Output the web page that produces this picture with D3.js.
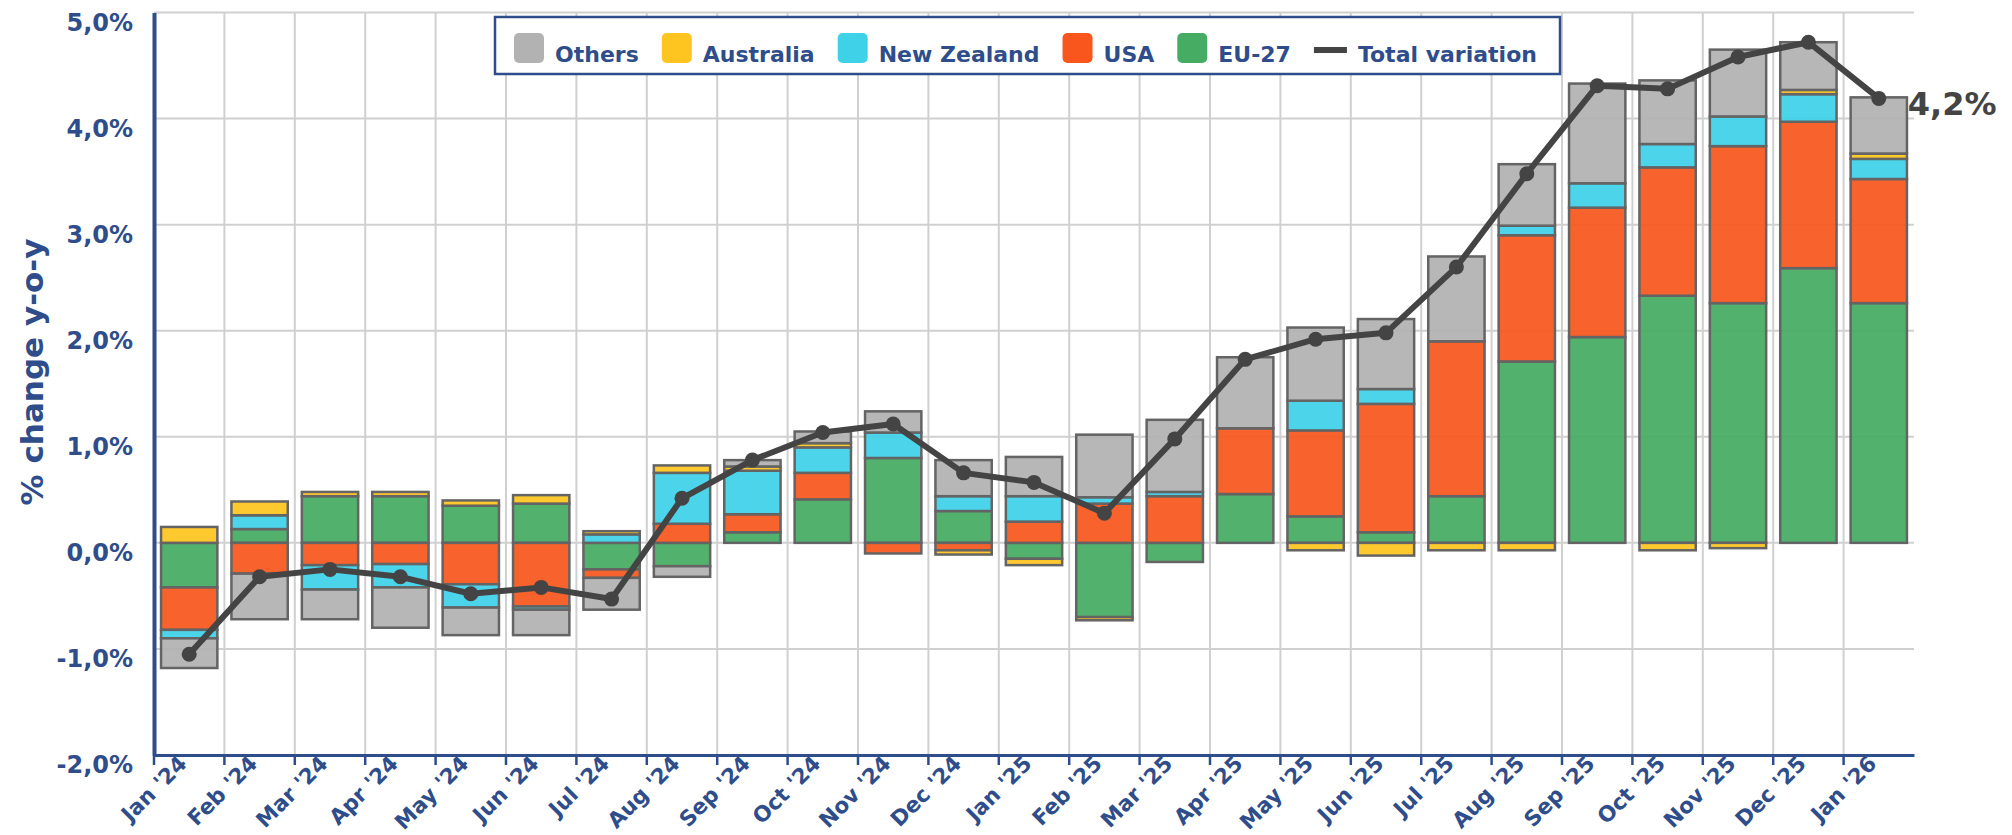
<!DOCTYPE html>
<html>
<head>
<meta charset="utf-8">
<script src="https://cdn.jsdelivr.net/npm/d3@7"></script>
<style>
  body { margin: 0; background: #fff; }
  svg { font-family: "DejaVu Sans", sans-serif; font-weight: bold; }
</style>
</head>
<body>
<div class="chart"></div>
<script>
const months = ["Jan '24", "Feb '24", "Mar '24", "Apr '24", "May '24", "Jun '24", "Jul '24", "Aug '24",
    "Sep '24", "Oct '24", "Nov '24", "Dec '24", "Jan '25", "Feb '25", "Mar '25", "Apr '25", "May '25",
    "Jun '25", "Jul '25", "Aug '25", "Sep '25", "Oct '25", "Nov '25", "Dec '25", "Jan '26"]

// contributions in percentage points
const eu27 = [-0.42, 0.13, 0.44, 0.44, 0.35, 0.37, -0.25, -0.22, 0.10, 0.41, 0.80, 0.30, -0.15,
    -0.70, -0.18, 0.46, 0.25, 0.10, 0.44, 1.71, 1.94, 2.33, 2.26, 2.59, 2.26]
const usa = [-0.40, -0.29, -0.21, -0.20, -0.39, -0.60, -0.08, 0.18, 0.17, 0.25, -0.10, -0.07, 0.20,
    0.37, 0.44, 0.62, 0.81, 1.21, 1.46, 1.19, 1.22, 1.21, 1.48, 1.38, 1.17]
const newZealand = [-0.08, 0.13, -0.23, -0.22, -0.22, -0.03, 0.08, 0.48, 0.41, 0.24, 0.24, 0.14, 0.24,
    0.06, 0.04, 0, 0.28, 0.14, 0, 0.09, 0.23, 0.22, 0.28, 0.26, 0.19]
const australia = [0.15, 0.13, 0.04, 0.04, 0.05, 0.08, 0.03, 0.07, 0.04, 0.04, 0, -0.04, -0.06,
    -0.03, 0, 0, -0.07, -0.12, -0.07, -0.07, 0, -0.07, -0.05, 0.04, 0.05]
const others = [-0.28, -0.43, -0.28, -0.38, -0.26, -0.24, -0.30, -0.10, 0.06, 0.11, 0.20, 0.34, 0.37,
    0.59, 0.68, 0.67, 0.69, 0.66, 0.80, 0.58, 0.94, 0.60, 0.63, 0.45, 0.53]
const totalVariation = [-1.05, -0.32, -0.25, -0.32, -0.48, -0.42, -0.53, 0.42, 0.78, 1.04, 1.12, 0.66, 0.57,
    0.28, 0.98, 1.73, 1.92, 1.98, 2.60, 3.48, 4.31, 4.28, 4.58, 4.72, 4.19]

const yTicks = [-2, -1, 0, 1, 2, 3, 4, 5]
const seriesKeys = ['EU-27', 'USA', 'New Zealand', 'Australia', 'Others']   // stack order from zero
const legendKeys = ['Others', 'Australia', 'New Zealand', 'USA', 'EU-27']
const seriesColors = ['#46ab63', '#f8561c', '#3ed1e8', '#fec41f', '#b2b2b2']

const margin = ({top: 12.5, right: 98, bottom: 80, left: 154})
const width = 2012 - margin.left - margin.right
const height = 835 - margin.top - margin.bottom
const blue = '#2e4d8a'

const rows = months.map((m, i) => ({
    month: m,
    'EU-27': eu27[i],
    'USA': usa[i],
    'New Zealand': newZealand[i],
    'Australia': australia[i],
    'Others': others[i],
    total: totalVariation[i]
}))

const color = d3.scaleOrdinal().domain(seriesKeys).range(seriesColors)

const x = d3.scaleBand()
    .domain(months)
    .range([0, width])
    .paddingInner(0.2)
    .paddingOuter(0.1)

const y = d3.scaleLinear()
    .domain([-2, 5])
    .range([height, 0])

const svgRoot = d3.select('.chart').append('svg')
    .attr('width', 2012)
    .attr('height', 835)

const svg = svgRoot.append('g')
    .attr('transform', `translate(${margin.left},${margin.top})`)

// grid
const step = x.step()
svg.append('g').selectAll('line.hgrid')
    .data(yTicks)
    .join('line')
    .attr('x1', 0).attr('x2', width)
    .attr('y1', d => y(d)).attr('y2', d => y(d))
    .attr('stroke', '#d0d0d0').attr('stroke-width', 2)

svg.append('g').selectAll('line.vgrid')
    .data(months.slice(1))
    .join('line')
    .attr('x1', d => x(d) - step * 0.1).attr('x2', d => x(d) - step * 0.1)
    .attr('y1', 0).attr('y2', height)
    .attr('stroke', '#d0d0d0').attr('stroke-width', 2)

// stacked bars, positives up and negatives down
const stack = d3.stack()
    .keys(seriesKeys)
    .offset(d3.stackOffsetDiverging)
const layers = stack(rows)

svg.append('g').selectAll('g')
    .data(layers)
    .join('g')
    .attr('fill', d => color(d.key))
    .selectAll('rect')
    .data(d => d.filter(s => s[1] !== s[0]))
    .join('rect')
    .attr('x', d => x(d.data.month))
    .attr('width', x.bandwidth())
    .attr('y', d => y(Math.max(d[0], d[1])))
    .attr('height', d => Math.abs(y(d[0]) - y(d[1])))
    .attr('fill-opacity', 0.93)
    .attr('stroke', '#646464')
    .attr('stroke-width', 2.5)

// axes
const fmt = v => v.toFixed(1).replace('.', ',') + '%'

const yAxis = d3.axisLeft(y)
    .tickValues(yTicks)
    .tickSize(0)
    .tickPadding(21)
    .tickFormat(fmt)

const yg = svg.append('g').call(yAxis)
yg.select('.domain').attr('stroke', blue).attr('stroke-width', 4)
yg.selectAll('text')
    .attr('fill', blue)
    .attr('font-size', 24)
    .attr('font-family', '"DejaVu Sans", sans-serif')
    .attr('font-weight', 'bold')
    .attr('dy', '0.73em')

const xAxis = d3.axisBottom(x)
    .tickSize(10)
    .tickSizeOuter(0)

const xg = svg.append('g')
    .attr('transform', `translate(0,${height})`)
    .call(xAxis)
xg.select('.domain').attr('stroke', blue).attr('stroke-width', 3)
xg.selectAll('.tick line')
    .attr('stroke', blue).attr('stroke-width', 2.5)
    .attr('transform', `translate(${-step / 2},0)`)
xg.selectAll('.tick text')
    .attr('fill', blue)
    .attr('font-size', 21.5)
    .attr('font-family', '"DejaVu Sans", sans-serif')
    .attr('font-weight', 'bold')
    .attr('text-anchor', 'end')
    .attr('x', 0).attr('y', 0).attr('dy', 0)
    .attr('transform', 'translate(-1,10) rotate(-45)')

// total variation line
const cx = d => x(d.month) + x.bandwidth() / 2
const line = d3.line()
    .x(cx)
    .y(d => y(d.total))

svg.append('path')
    .datum(rows)
    .attr('d', line)
    .attr('fill', 'none')
    .attr('stroke', '#444')
    .attr('stroke-width', 6)
    .attr('stroke-linejoin', 'round')

svg.append('g').selectAll('circle')
    .data(rows)
    .join('circle')
    .attr('cx', cx)
    .attr('cy', d => y(d.total))
    .attr('r', 7.5)
    .attr('fill', '#444')

const last = rows[rows.length - 1]
svg.append('text')
    .attr('x', cx(last) + 29)
    .attr('y', y(last.total) + 17)
    .attr('fill', '#444')
    .attr('font-size', 32)
    .text(fmt(last.total))

// y title
svgRoot.append('text')
    .attr('transform', 'translate(43,372) rotate(-90)')
    .attr('text-anchor', 'middle')
    .attr('fill', blue)
    .attr('font-size', 31)
    .text('% change y-o-y')

// legend
const legend = svgRoot.append('g')
legend.append('rect')
    .attr('x', 495).attr('y', 17)
    .attr('width', 1065).attr('height', 57)
    .attr('fill', '#fff')
    .attr('stroke', blue)
    .attr('stroke-width', 2.5)

let lx = 514
legendKeys.concat(['Total variation']).forEach(k => {
    if (k === 'Total variation') {
        legend.append('rect')
            .attr('x', lx).attr('y', 47)
            .attr('width', 33).attr('height', 6)
            .attr('fill', '#444')
        lx += 33 + 11
    } else {
        legend.append('rect')
            .attr('x', lx).attr('y', 33)
            .attr('width', 30).attr('height', 30)
            .attr('rx', 5)
            .attr('fill', color(k))
        lx += 30 + 11
    }
    const t = legend.append('text')
        .attr('x', lx).attr('y', 62)
        .attr('fill', blue)
        .attr('font-size', 22)
        .text(k)
    lx += t.node().getComputedTextLength() + 23
})
</script>
</body>
</html>
